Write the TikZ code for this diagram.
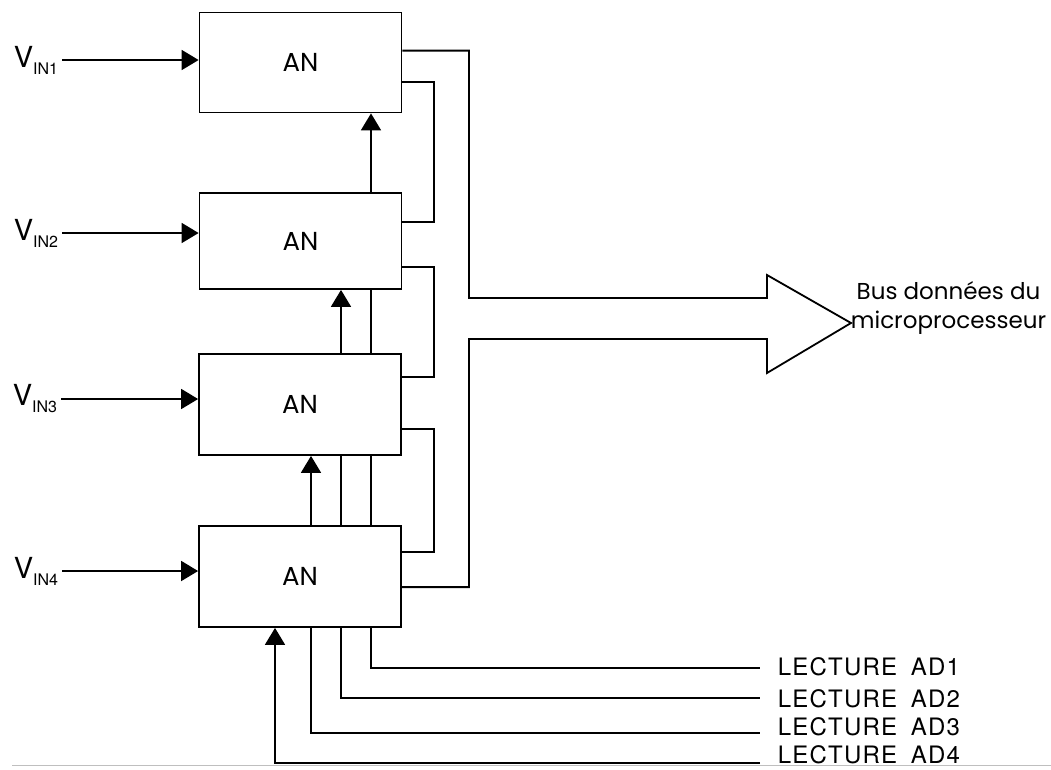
\documentclass[tikz,border=0pt]{standalone}
\usepackage{fontspec}
\setmainfont{TeX Gyre Heros}
\newfontfamily\busfont{Poppins}
\newfontfamily\lecfont[LetterSpace=5]{TeX Gyre Heros}
\usetikzlibrary{arrows.meta}
\newcommand{\vin}[1]{{\fontsize{29}{29}\selectfont V}\raisebox{-7pt}{\fontsize{16}{16}\selectfont IN#1}}
\begin{document}
\begin{tikzpicture}[x=1pt, y=-1pt, line width=1.8pt,
  >={Triangle[length=17pt,width=20pt]},
  anbox/.style={draw, minimum width=202pt, minimum height=100pt, inner sep=0pt,
    font=\busfont\fontsize{26}{26}\selectfont},
  vlabel/.style={inner sep=0pt, anchor=west},
  lecture/.style={font=\lecfont\fontsize{24}{24}\selectfont, inner sep=0pt, anchor=base west}]
\useasboundingbox (0,0) rectangle (1051,769);
\node[anbox] (an1) at (300.5,62.5) {AN};
\node[anbox, minimum height=96pt] (an2) at (300.5,241) {AN};
\node[anbox, minimum height=101pt] (an3) at (300,404.5) {AN};
\node[anbox, minimum height=101pt] (an4) at (300,576.5) {AN};
\node[vlabel] (v1) at (13,60) {\vin1};
\node[vlabel] (v2) at (13,233) {\vin2};
\node[vlabel] (v3) at (12,399) {\vin3};
\node[vlabel] (v4) at (13,571) {\vin4};
\draw[->] ([xshift=3pt]v1.east) -- (v1.east -| an1.west);
\draw[->] ([xshift=3pt]v2.east) -- (v2.east -| an2.west);
\draw[->] ([xshift=3pt]v3.east) -- (v3.east -| an3.west);
\draw[->] ([xshift=3pt]v4.east) -- (v4.east -| an4.west);
\coordinate (k1) at (371,0);
\coordinate (k2) at (341,0);
\coordinate (k3) at (311,0);
\coordinate (k4) at (275,0);
\draw[->] (an2.north -| k1) -- (an1.south -| k1);
\draw[->] (an3.north -| k2) -- (an2.south -| k2);
\draw (an3.north -| k1) -- (an2.south -| k1);
\draw[->] (an4.north -| k3) -- (an3.south -| k3);
\draw (an4.north -| k2) -- (an3.south -| k2);
\draw (an4.north -| k1) -- (an3.south -| k1);
\node[lecture] (l1) at (777,675) {LECTURE\hspace{6pt} AD1};
\node[lecture] (l2) at (777,707) {LECTURE\hspace{6pt} AD2};
\node[lecture] (l3) at (777,735) {LECTURE\hspace{6pt} AD3};
\node[lecture] (l4) at (777,763) {LECTURE\hspace{6pt} AD4};
\coordinate (e1) at (760,668);
\coordinate (e2) at (760,698);
\coordinate (e3) at (760,733);
\coordinate (e4) at (760,763);
\draw[gray!50, line width=1pt] (12,765) -- (1051,765);
\draw (an4.south -| k1) |- (e1);
\draw (an4.south -| k2) |- (e2);
\draw (an4.south -| k3) |- (e3);
\draw[->] (e4) -| (an4.south -| k4);
\coordinate (o1a) at ([yshift=-39pt]an1.north east);
\coordinate (o1b) at ([yshift=-70pt]an1.north east);
\coordinate (i2) at ([yshift=-30pt]an2.north east);
\coordinate (o2) at ([yshift=23pt]an2.south east);
\coordinate (i3) at ([yshift=-24pt]an3.north east);
\coordinate (o3) at ([yshift=27pt]an3.south east);
\coordinate (i4) at ([yshift=-27pt]an4.north east);
\coordinate (o4) at ([yshift=-62pt]an4.north east);
\coordinate (r1) at (434,0);
\coordinate (r2) at (469,0);
\draw (o1b) -| (r1 |- i2) -- (i2);
\draw (o2) -| (r1 |- i3) -- (i3);
\draw (o3) -| (r1 |- i4) -- (i4);
\coordinate (bt) at (767,298);
\coordinate (bb) at (767,339);
\coordinate (tip) at (851,323);
\draw (o1a) -| (r2 |- bt) -- (bt) -- ++(0,-23) -- (tip) -- (767,373) -- (bb)
  -- (r2 |- bb) |- (o4);
\node[anchor=west, align=center, inner sep=0pt,
  font=\busfont\fontsize{23}{29}\selectfont] (bus) at (850,308)
  {Bus données du\\microprocesseur};
\end{tikzpicture}
\end{document}
